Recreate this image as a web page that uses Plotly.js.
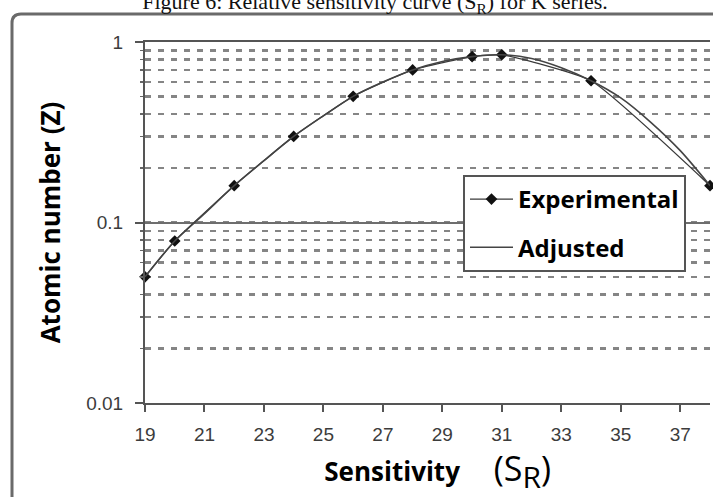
<!DOCTYPE html>
<html><head><meta charset="utf-8">
<script src="https://cdn.plot.ly/plotly-3.0.1.min.js"></script>
<style>html,body{margin:0;padding:0;background:#fff}</style>
</head><body>
<div id="chart" style="width:713px;height:497px"></div>
<script>
// ---- data ----
const expX = [19, 20, 22, 24, 26, 28, 30, 31, 34, 38];
const expY = [0.050, 0.079, 0.160, 0.300, 0.500, 0.700, 0.830, 0.850, 0.610, 0.160];
const adjX = [19, 20, 21, 22, 23, 24, 25, 26, 27, 28, 29, 30, 31, 32, 33, 34, 35, 36, 37, 38];
const adjY = [0.050, 0.079, 0.112, 0.160, 0.220, 0.300, 0.390, 0.500, 0.600, 0.700,
              0.780, 0.830, 0.850, 0.810, 0.720, 0.610, 0.490, 0.360, 0.250, 0.160];
const xTickVals = [19, 21, 23, 25, 27, 29, 31, 33, 35, 37];
const xTickText = ['19', '21', '23', '25', '27', '29', '31', '33', '35', '37'];
const yTickVals = [0.01, 0.1, 1];
const yTickText = ['0.01', '0.1', '1'];
const seriesNames = ['Experimental', 'Adjusted'];

// ---- layout geometry ----
const W = 713, H = 497, L = 145, R = 3, T = 42, B = 94;
const pw = W - L - R, ph = H - T - B;
const px2x = p => (p - L) / pw;
const py2y = p => (H - B - p) / ph;

const fx0 = px2x(12), fy0 = py2y(14), fyb = py2y(505), fx1 = px2x(720);
const rx = 9 / pw, ry = 9 / ph;
const framePath = `M${fx0},${fyb} L${fx0},${fy0 - ry} Q${fx0},${fy0} ${fx0 + rx},${fy0} L${fx1},${fy0}`;

const traces = [
  {
    x: expX, y: expY, name: seriesNames[0], type: 'scatter', mode: 'lines+markers',
    line: {color: '#3a3a3a', width: 1.3, shape: 'spline', smoothing: 0.45},
    marker: {symbol: 'diamond', size: 9, color: '#111'},
    legendgroup: 'a', legendrank: 1, cliponaxis: false
  },
  {
    x: adjX, y: adjY, name: seriesNames[1], type: 'scatter', mode: 'lines',
    line: {color: '#444', width: 1.6, shape: 'spline', smoothing: 0.8},
    legendgroup: 'b', legendrank: 2, cliponaxis: false
  }
];

const nb = n => '&nbsp;'.repeat(n);

const layout = {
  width: W, height: H,
  margin: {l: L, r: R, t: T, b: B, pad: 0},
  paper_bgcolor: '#fff', plot_bgcolor: '#fff',
  showlegend: true,
  title: {
    text: 'Figure 6: Relative sensitivity curve (S<sub>R</sub>) for K series.',
    font: {family: 'Liberation Serif', size: 22, color: '#111'},
    xref: 'container', yref: 'container',
    x: 375 / W, xanchor: 'center', y: 1 - 9 / H, yanchor: 'bottom'
  },
  xaxis: {
    range: [19, 38], tickmode: 'array', tickvals: xTickVals, ticktext: xTickText,
    ticks: 'outside', ticklen: 7, tickwidth: 2, tickcolor: '#555',
    showline: true, mirror: true, linecolor: '#555', linewidth: 2,
    showgrid: false, zeroline: false,
    tickfont: {family: 'Liberation Sans', size: 19, color: '#3c3c3c'},
    ticklabelstandoff: 6,
    title: {
      text: nb(3) + '<b>Sensitivity</b>' + nb(5) +
            "<span style='font-size:34px'>(S<sub><span style='font-size:30px'>R</span></sub>)</span>",
      font: {family: 'Open Sans', size: 26, color: '#000'},
      standoff: 8
    }
  },
  yaxis: {
    type: 'log', range: [-2, 0], tickmode: 'array', tickvals: yTickVals, ticktext: yTickText,
    ticks: 'outside', ticklen: 8, tickwidth: 2, tickcolor: '#555',
    showline: true, linecolor: '#555', linewidth: 2,
    showgrid: true, gridcolor: '#6e6e6e', gridwidth: 2, zeroline: false,
    tickfont: {family: 'Liberation Sans', size: 19, color: '#3c3c3c'},
    ticklabelstandoff: 8,
    minor: {
      dtick: 'D1', showgrid: true, gridcolor: '#858585', gridwidth: 2.5,
      griddash: '6px,7px', ticks: 'outside', ticklen: 3, tickcolor: '#666', tickwidth: 1.5
    },
    title: {
      text: '<b>Atomic number (Z)</b>',
      font: {family: 'Open Sans', size: 26, color: '#000'},
      standoff: 18
    }
  },
  legend: {
    x: px2x(463), y: py2y(175), xanchor: 'left', yanchor: 'top',
    bgcolor: '#fff', bordercolor: '#555', borderwidth: 2,
    font: {family: 'Open Sans', size: 24, color: '#000', weight: 'bold'},
    traceorder: 'grouped', tracegroupgap: 14, itemwidth: 43
  },
  shapes: [
    {type: 'path', xref: 'paper', yref: 'paper', path: framePath,
     line: {color: '#6a6a6a', width: 3}}
  ]
};

Plotly.newPlot('chart', traces, layout, {displayModeBar: false, staticPlot: true});
</script>
</body></html>
